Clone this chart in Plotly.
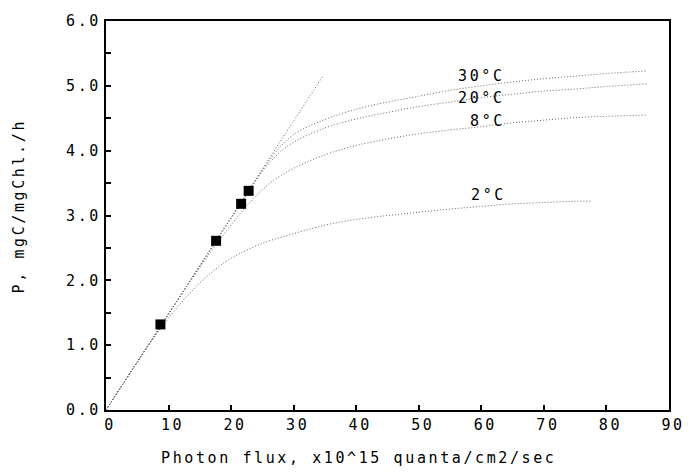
import plotly.graph_objects as go

# Measured points (photon flux, P)
meas_x = [8.7, 17.6, 21.6, 22.8]
meas_y = [1.32, 2.61, 3.18, 3.38]

# Initial slope line
init_x = [0, 34.6]
init_y = [0, 5.14]

# Curves by temperature
c2_x = [0, 4, 8, 10, 13, 16, 20, 25, 30, 35, 40, 45, 50, 55, 60, 65, 70, 75, 77.7]
c2_y = [0, 0.59, 1.16, 1.42, 1.76, 2.05, 2.34, 2.57, 2.72, 2.85, 2.94, 3.0, 3.05, 3.1, 3.14, 3.18, 3.2, 3.22, 3.22]

c8_x = [0, 5, 10, 15, 18, 21, 23, 25, 28, 32, 36, 40, 45, 50, 55, 60, 65, 70, 75, 80, 86.5]
c8_y = [0, 0.74, 1.48, 2.2, 2.6, 2.98, 3.2, 3.4, 3.62, 3.82, 3.97, 4.08, 4.18, 4.26, 4.32, 4.37, 4.43, 4.47, 4.51, 4.53, 4.55]

c20_x = [0, 10, 20, 22.6, 25, 27.5, 30, 35, 40, 45, 50, 55, 60, 65, 70, 75, 80, 86.5]
c20_y = [0, 1.48, 2.96, 3.33, 3.68, 3.95, 4.13, 4.35, 4.49, 4.59, 4.68, 4.75, 4.82, 4.87, 4.92, 4.95, 4.99, 5.03]

c30_x = [0, 10, 20, 25, 27.5, 30, 35, 40, 45, 50, 55, 60, 65, 70, 75, 80, 86.5]
c30_y = [0, 1.48, 2.96, 3.7, 4.02, 4.25, 4.48, 4.64, 4.75, 4.84, 4.93, 5.0, 5.06, 5.11, 5.15, 5.19, 5.23]

labels = ["30°C", "20°C", "8°C", "2°C"]
label_x = [60.1, 60.1, 61.0, 61.2]
label_y = [5.15, 4.82, 4.46, 3.31]

x_tickvals = [0, 10, 20, 30, 40, 50, 60, 70, 80, 90]
y_tickvals = [0, 0.5, 1, 1.5, 2, 2.5, 3, 3.5, 4, 4.5, 5, 5.5, 6]
y_ticklabels = ["0.0", "", "1.0", "", "2.0", "", "3.0", "", "4.0", "", "5.0", "", "6.0"]

FONT = "DejaVu Sans Mono"
LS = "letter-spacing:2.6px"


def sp(t):
    return f'<span style="{LS}">{t}</span>' if t else ""


fig = go.Figure()
line_style = dict(color="#666666", width=1, dash="1px,2px")
fig.add_trace(go.Scatter(x=init_x, y=init_y, mode="lines", line=line_style))
for cx, cy in [(c2_x, c2_y), (c8_x, c8_y), (c20_x, c20_y), (c30_x, c30_y)]:
    fig.add_trace(go.Scatter(x=cx, y=cy, mode="lines", line=line_style, line_shape="spline"))
fig.add_trace(go.Scatter(x=meas_x, y=meas_y, mode="markers",
                         marker=dict(symbol="square", size=10, color="black")))

for t, lx, ly in zip(labels, label_x, label_y):
    fig.add_annotation(x=lx, y=ly, text=sp(t), showarrow=False,
                       font=dict(family=FONT, size=15, color="black"))

fig.add_annotation(xref="paper", yref="paper", x=(361 - 106) / (675 - 106), y=-0.123,
                   text=sp("Photon flux, x10^15 quanta/cm2/sec"), showarrow=False,
                   font=dict(family=FONT, size=15, color="black"), yanchor="middle")
fig.add_annotation(xref="paper", yref="paper", x=(18 - 106) / (675 - 106), y=(410 - 206) / 390,
                   text=sp("P, mgC/mgChl./h"), showarrow=False, textangle=-90,
                   font=dict(family=FONT, size=15, color="black"),
                   xanchor="center", yanchor="middle")

fig.update_layout(
    width=697, height=474,
    margin=dict(l=106, r=22, t=20, b=64),
    paper_bgcolor="white", plot_bgcolor="white",
    showlegend=False,
    font=dict(family=FONT, size=15, color="black"),
)
fig.update_xaxes(range=[0, 90], tickvals=x_tickvals,
                 ticktext=[sp(str(v)) for v in x_tickvals],
                 ticks="inside", ticklen=5, tickcolor="black", tickwidth=1.5,
                 showline=True, linecolor="black", linewidth=2, mirror=True,
                 showgrid=False, zeroline=False, ticklabelshift=4)
fig.update_yaxes(range=[0, 6], tickvals=y_tickvals,
                 ticktext=[sp(v) for v in y_ticklabels],
                 ticks="inside", ticklen=5, tickcolor="black", tickwidth=1.5,
                 showline=True, linecolor="black", linewidth=2, mirror=True,
                 showgrid=False, zeroline=False)

fig.write_html("out.html")
